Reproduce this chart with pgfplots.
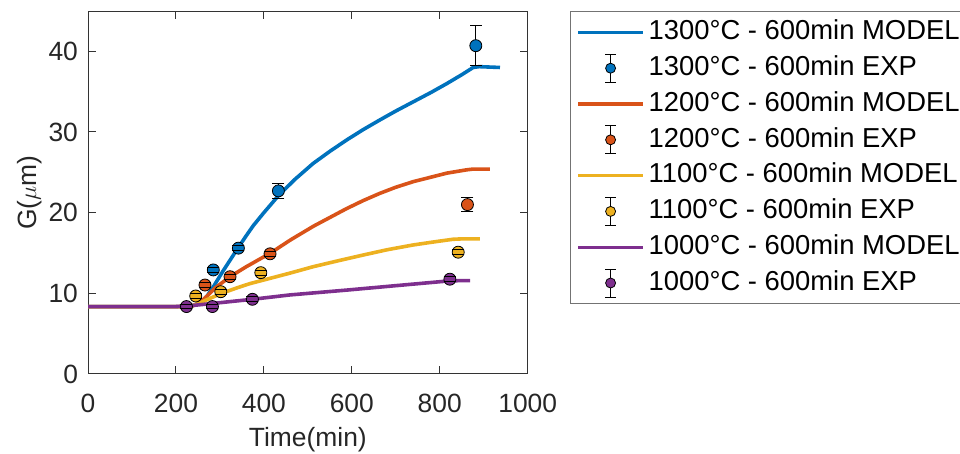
\documentclass[border=0pt]{standalone}
\usepackage{fontspec}
\setmainfont{Liberation Sans}
\usepackage{pgfplots}
\usepackage{pgfplotstable}
\pgfplotsset{compat=1.18}
\definecolor{mblue}{rgb}{0,0.447,0.741}
\definecolor{morange}{rgb}{0.85,0.325,0.098}
\definecolor{myellow}{rgb}{0.929,0.694,0.125}
\definecolor{mpurple}{rgb}{0.494,0.184,0.556}
\definecolor{tickgray}{HTML}{262626}
\pgfplotsset{
  modelline/.style={color=#1, line width=1.8pt, no marks, line join=round,
    legend image code/.code={\draw[#1, line width=1.6pt] (0pt,0pt) -- (32.5pt,0pt);}},
  expmark/.style={only marks, mark=*, mark size=3pt,
    mark options={fill=#1, draw=black, line width=0.4pt},
    legend image code/.code={
      \draw[black, line width=0.5pt] (16.25pt,-7pt) -- (16.25pt,7pt)
        (13.5pt,-7pt) -- (19pt,-7pt) (13.5pt,7pt) -- (19pt,7pt);
      \draw[black, fill=#1, line width=0.4pt] (16.25pt,0pt) circle (2.5pt);}},
  errs/.style={forget plot, only marks, mark=none,
    error bars/.cd, y dir=both, y explicit, error mark=none,
    error bar style={black, line width=0.5pt}},
}
\pgfplotstableread{
x y e
285 12.9 0.35
342 15.6 0.35
433 22.7 0.95
882 40.7 2.5
266 11.03 0.3
323 12.06 0.3
414 14.9 0.3
863 21.0 0.9
245 9.67 0.3
302 10.2 0.3
393 12.56 0.3
842 15.1 0.3
224 8.36 0.3
283 8.36 0.3
374 9.26 0.3
823 11.75 0.3
}\errtable
\begin{document}
\begin{tikzpicture}
\useasboundingbox (-44pt,-40pt) rectangle (436pt,187pt);
\begin{axis}[
  scale only axis, width=219.85pt, height=181.5pt,
  xmin=0, xmax=1000, ymin=0, ymax=45,
  xtick={0,200,...,1000}, ytick={0,10,...,40},
  tick align=inside, major tick length=4pt,
  axis line style={black!80, line width=0.5pt},
  every tick/.style={black!80, line width=0.5pt},
  tick label style={font=\fontsize{13.2}{16}\selectfont, text=tickgray},
  /pgf/number format/assume math mode=true,
  /pgf/number format/1000 sep={},
  xticklabel style={anchor=base, yshift=-19.5pt},
  yticklabel style={anchor=east, xshift=-1.5pt},
  xlabel={Time(min)}, ylabel={G($\mu$m)},
  label style={font=\fontsize{13.2}{16}\selectfont, text=tickgray},
  xlabel style={at={(axis description cs:0.5,-0.201)}, anchor=base},
  ylabel style={at={(axis description cs:-0.118,0.5)}, anchor=base, rotate=0},
  legend cell align=left,
  legend style={at={(1.0962,1)}, anchor=north west, draw=black!55, line width=0.5pt,
    font=\fontsize{13.7}{16}\selectfont, inner xsep=3pt, inner ysep=1.5pt,
    row sep=0pt,
    nodes={text height=10pt, text depth=2.8pt, inner ysep=2.55pt}},
]
% error bars underneath markers
\addplot[errs] table[x=x, y=y, y error=e] {\errtable};
% 1300
\addplot[modelline=mblue] coordinates {(0,8.35) (200,8.35) (235,8.4) (255,8.8) (270,9.6) (285,10.8) (304,12.5) (323,14.1) (342,15.7) (360,17.15) (376,18.4) (400,20.0) (433,22.1) (470,24.1) (512,26.1) (550,27.6) (588,29.0) (626,30.3) (664,31.5) (700,32.6) (740,33.75) (780,34.9) (816,36.0) (850,37.1) (876,38.0) (890,38.1) (937,38.0)};
\addlegendentry{1300°C - 600min MODEL\rule{15pt}{0pt}}
\addplot[expmark=mblue] coordinates {(285,12.9) (342,15.6) (433,22.7) (882,40.7)};
\addlegendentry{1300°C - 600min EXP}
% 1200
\addplot[modelline=morange] coordinates {(0,8.35) (200,8.35) (235,8.4) (250,8.7) (262,9.2) (290,10.7) (323,12.06) (360,13.3) (414,14.96) (460,16.6) (512,18.3) (550,19.4) (588,20.5) (626,21.5) (664,22.4) (700,23.15) (740,23.85) (780,24.4) (816,24.9) (860,25.3) (875,25.4) (914,25.4)};
\addlegendentry{1200°C - 600min MODEL}
\addplot[expmark=morange] coordinates {(266,11.03) (323,12.06) (414,14.9) (863,21.0)};
\addlegendentry{1200°C - 600min EXP}
% 1100
\addplot[modelline=myellow] coordinates {(0,8.35) (200,8.35) (235,8.4) (255,8.8) (270,9.2) (304,10.0) (340,10.7) (368,11.2) (410,11.8) (459,12.5) (512,13.3) (570,14.05) (626,14.75) (680,15.4) (740,16.0) (790,16.4) (830,16.7) (850,16.75) (891,16.75)};
\addlegendentry{1100°C - 600min MODEL}
\addplot[expmark=myellow] coordinates {(245,9.67) (302,10.2) (393,12.56) (842,15.1)};
\addlegendentry{1100°C - 600min EXP}
% 1000
\addplot[modelline=mpurple] coordinates {(0,8.35) (100,8.35) (200,8.36) (230,8.45) (293,8.8) (372,9.25) (459,9.8) (588,10.4) (700,10.95) (823,11.55) (845,11.57) (869,11.57)};
\addlegendentry{1000°C - 600min MODEL}
\addplot[expmark=mpurple] coordinates {(224,8.36) (283,8.36) (374,9.26) (823,11.75)};
\addlegendentry{1000°C - 600min EXP}
% error bar caps on top of markers
\addplot[forget plot, only marks, mark=-, mark size=3pt, mark options={black, line width=0.5pt}]
  table[x=x, y expr=\thisrow{y}+\thisrow{e}] {\errtable};
\addplot[forget plot, only marks, mark=-, mark size=3pt, mark options={black, line width=0.5pt}]
  table[x=x, y expr=\thisrow{y}-\thisrow{e}] {\errtable};
\end{axis}
\end{tikzpicture}
\end{document}
